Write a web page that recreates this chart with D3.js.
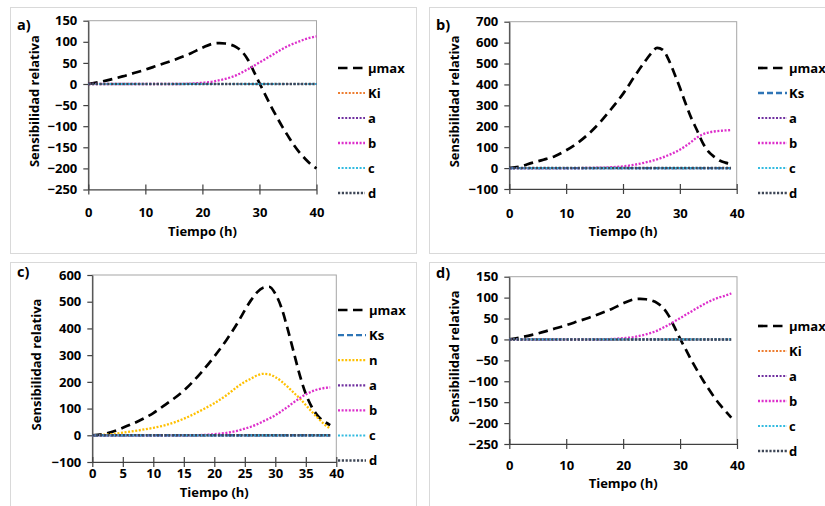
<!DOCTYPE html>
<html><head><meta charset="utf-8">
<script src="https://cdn.jsdelivr.net/npm/d3@7"></script>
<style>
html,body{margin:0;padding:0;background:#fff;}
svg{display:block;}
text{font-family:"Open Sans",Lato,sans-serif;font-weight:bold;fill:#000;}
</style></head><body>
<svg id="chart" width="825" height="506"></svg>
<script>
// ---------- DATA ----------
// Panel a
const tA = [0,2,4,6,8,10,12,14,16,18,20,22,23,24,25,26,27,28,29,30,31,32,33,34,35,36,37,38,39,40];
const muA = [0,5,11,18,26,34,43,52,62,73,86,96,97,96,93,87,76,57,30,2,-25,-52,-77,-101,-123,-144,-162,-177,-190,-200];
const bA  = [0,0,0,0,0,0,0,0,0,1,3,6,9,12,16,21,28,35,43,51,59,67,75,83,90,96,101,106,110,113];
const zeroTA = [0,40];
const zeroA = [0,0];
// Panel b
const tB = [0,2,4,6,8,10,12,14,16,18,20,22,24,25,26,27,28,29,30,31,32,33,34,35,36,37,38,39];
const muB = [0,8,25,40,57,85,120,165,220,285,355,437,515,550,575,565,520,455,385,310,240,182,122,80,55,36,26,20];
const bB  = [0,0,0,0,0,0,0,1,2,4,8,16,27,34,42,51,62,74,88,105,125,146,161,170,175,178,180,182];
const zeroTB = [0,39];
const zeroB = [0,0];
// Panel c
const tC = [0,2,3,5,8,10,12,15,18,20,22,24,25,26,27,28,29,30,31,32,33,34,35,36,37,38,39];
const muC = [0,5,11,28,58,83,115,167,239,295,357,428,468,505,535,552,556,530,478,400,313,226,155,105,72,52,38];
const nC  = [0,2,4,10,20,28,38,62,95,120,150,185,200,212,224,230,228,218,202,182,160,138,113,88,64,42,25];
const bC  = [0,0,0,0,0,0,0,0,1,4,9,18,25,32,41,52,63,75,90,106,123,139,153,164,172,177,179];
const zeroTC = [0,39];
const zeroC = [0,0];
// Panel d
const tD = [0,2,4,6,8,10,12,14,16,18,20,22,23,24,25,26,27,28,29,30,31,32,33,34,35,36,37,38,39];
const muD = [0,5,11,18,26,34,43,52,62,73,86,96,97,96,93,87,76,57,30,2,-24,-50,-74,-97,-118,-138,-156,-172,-187];
const bD  = [0,0,0,0,0,0,0,0,0,1,3,6,9,12,16,21,28,35,43,51,59,67,75,83,90,96,101,105,110];
const zeroTD = [0,39];
const zeroD = [0,0];

const ticksA_y = [-250,-200,-150,-100,-50,0,50,100,150];
const ticksB_y = [-100,0,100,200,300,400,500,600,700];
const ticksC_y = [-100,0,100,200,300,400,500,600];
const ticksD_y = [-250,-200,-150,-100,-50,0,50,100,150];
const ticksX10 = [0,10,20,30,40];
const ticksX5 = [0,5,10,15,20,25,30,35,40];

const seriesNamesA = ["µmax","Ki","a","b","c","d"];
const seriesNamesB = ["µmax","Ks","a","b","c","d"];
const seriesNamesC = ["µmax","Ks","n","a","b","c","d"];
const seriesNamesD = ["µmax","Ki","a","b","c","d"];

// ---------- STYLES ----------
const styles = {
  "µmax": {color:"#000000", width:2.7, dash:"9.5,5.5"},
  "Ki":   {color:"#ED7D31", width:2.2, dash:"2,1.6"},
  "Ks":   {color:"#2E75B6", width:2.4, dash:"6,3"},
  "n":    {color:"#FFC000", width:2.3, dash:"2,1.6"},
  "a":    {color:"#7030A0", width:2.2, dash:"2,1.6"},
  "b":    {color:"#DD2FCB", width:2.3, dash:"2,1.6"},
  "c":    {color:"#33BBE0", width:2.2, dash:"2,1.6"},
  "d":    {color:"#3E4656", width:2.5, dash:"2.2,1.6"}
};

const FONT = "'Open Sans',Lato,sans-serif";
const svg = d3.select("#chart");

function makeSeries(names, t, mu, b, n, zt, z){
  return names.map(name=>{
    if(name==="µmax") return {name, t, v:mu};
    if(name==="b") return {name, t, v:b};
    if(name==="n") return {name, t, v:n};
    return {name, t:zt, v:z};
  });
}

const panels = [
  {label:"a)", box:[10,7,406,246], plot:[88.3,316.5,20.7,189.5], ydom:[-250,150], yt:ticksA_y, xt:ticksX10,
   series:makeSeries(seriesNamesA,tA,muA,bA,null,zeroTA,zeroA),
   leg:{x1:338,x2:365,tx:368,y0:68,dy:25}, labY:30, xlabBase:217, xtitleY:236, ytitleX:39},
  {label:"b)", box:[429,7,400,246], plot:[509.3,736.7,21.7,189], ydom:[-100,700], yt:ticksB_y, xt:ticksX10,
   series:makeSeries(seriesNamesB,tB,muB,bB,null,zeroTB,zeroB),
   leg:{x1:758,x2:787,tx:789,y0:68,dy:25}, labY:30, xlabBase:218, xtitleY:236, ytitleX:459},
  {label:"c)", box:[10,262,406,250], plot:[92.3,336.3,275,462], ydom:[-100,600], yt:ticksC_y, xt:ticksX5,
   series:makeSeries(seriesNamesC,tC,muC,bC,nC,zeroTC,zeroC),
   leg:{x1:338,x2:366,tx:369,y0:310,dy:25.1}, labY:277, xlabBase:478, xtitleY:497, ytitleX:41},
  {label:"d)", box:[429,262,400,250], plot:[509.3,737,276.7,444], ydom:[-250,150], yt:ticksD_y, xt:ticksX10,
   series:makeSeries(seriesNamesD,tD,muD,bD,null,zeroTD,zeroD),
   leg:{x1:758,x2:787,tx:789,y0:326,dy:25}, labY:278, xlabBase:470, xtitleY:488, ytitleX:459}
];

panels.forEach(p=>{
  const g = svg.append("g");
  const [bx,by,bw,bh] = p.box;
  g.append("rect").attr("x",bx+0.5).attr("y",by+0.5).attr("width",bw).attr("height",bh)
    .attr("fill","#fff").attr("stroke","#D9D9D9").attr("stroke-width",1);

  const [x0,x1,y0,y1] = p.plot;
  const x = d3.scaleLinear().domain([0,40]).range([x0,x1]);
  const y = d3.scaleLinear().domain(p.ydom).range([y1,y0]);

  // legend (drawn before the plot area so plot area can overlap it)
  p.series.forEach((s,i)=>{
    const st = styles[s.name];
    const ly = p.leg.y0 + i*p.leg.dy;
    g.append("line").attr("x1",p.leg.x1).attr("x2",p.leg.x2).attr("y1",ly).attr("y2",ly)
      .attr("stroke",st.color).attr("stroke-width",st.width).attr("stroke-dasharray",st.dash);
    g.append("text").attr("x",p.leg.tx).attr("y",ly).attr("dy","0.36em")
      .attr("font-size",13).text(s.name);
  });

  // plot area border
  g.append("rect").attr("x",x0).attr("y",y0).attr("width",x1-x0).attr("height",y1-y0)
    .attr("fill","#fff").attr("stroke","#A6A6A6").attr("stroke-width",1);

  // y axis
  const yAxis = d3.axisLeft(y).tickValues(p.yt).tickSize(5).tickSizeOuter(0).tickPadding(6);
  const ya = g.append("g").attr("transform",`translate(${x0},0)`).call(yAxis);
  ya.select(".domain").attr("stroke","#404040").attr("stroke-width",1.2);
  ya.selectAll(".tick line").attr("stroke","#404040").attr("stroke-width",1.2);
  ya.selectAll(".tick text").attr("font-size",13).attr("font-family",FONT)
    .attr("font-weight","bold").attr("fill","#000");

  // x axis with crossing ticks
  const xAxis = d3.axisBottom(x).tickValues(p.xt).tickSize(5).tickSizeOuter(0);
  const xa = g.append("g").attr("transform",`translate(0,${y1})`).call(xAxis);
  xa.select(".domain").attr("stroke","#404040").attr("stroke-width",1.2);
  xa.selectAll(".tick line").attr("y1",-5).attr("y2",5).attr("stroke","#404040").attr("stroke-width",1.2);
  xa.selectAll(".tick text").attr("font-size",13).attr("font-family",FONT)
    .attr("font-weight","bold").attr("fill","#000")
    .attr("y", p.xlabBase - y1).attr("dy", null);

  // series
  const line = d3.line().x(d=>x(d[0])).y(d=>y(d[1])).curve(d3.curveMonotoneX);
  p.series.forEach(s=>{
    const st = styles[s.name];
    const pts = s.t.map((tt,i)=>[tt,s.v[i]]);
    g.append("path").attr("d",line(pts)).attr("fill","none")
      .attr("stroke",st.color).attr("stroke-width",st.width).attr("stroke-dasharray",st.dash);
  });

  // titles
  g.append("text").attr("x",(x0+x1)/2).attr("y",p.xtitleY).attr("text-anchor","middle")
    .attr("font-size",13).text("Tiempo (h)");
  g.append("text").attr("transform",`translate(${p.ytitleX},${(y0+y1)/2-4}) rotate(-90)`)
    .attr("text-anchor","middle").attr("font-size",13).text("Sensibilidad relativa");
  g.append("text").attr("x",bx+7).attr("y",p.labY).attr("font-size",14.5).text(p.label);
});
</script>
</body></html>
